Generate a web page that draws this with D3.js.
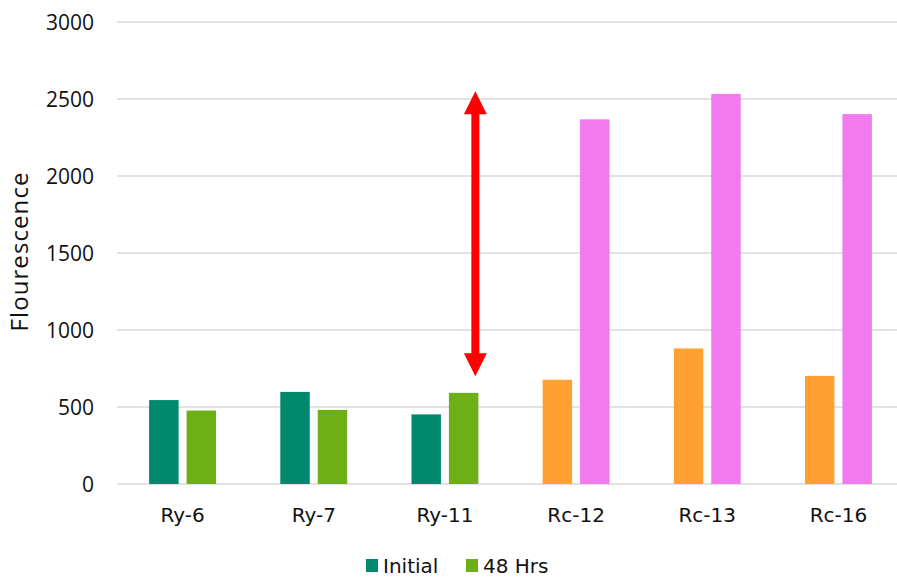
<!DOCTYPE html>
<html>
<head>
<meta charset="utf-8">
<script src="https://cdn.jsdelivr.net/npm/d3@7"></script>
<style>
  html, body { margin: 0; padding: 0; background: #fff; }
  svg text { fill: #111; }
  .num { font-family: "Open Sans", sans-serif; }
  .lbl { font-family: "DejaVu Sans", sans-serif; }
</style>
</head>
<body>
<svg id="chart" width="897" height="578"></svg>
<script>
// Samples on the x axis
const categories = ["Ry-6", "Ry-7", "Ry-11", "Rc-12", "Rc-13", "Rc-16"];
// Series names (legend) and per-sample fluorescence readings
const seriesNames = ["Initial", "48 Hrs"];
const initialValues = [545, 598, 452, 677, 880, 702];
const hrs48Values   = [477, 481, 592, 2368, 2533, 2402];
// Y axis ticks
const yTicks = [0, 500, 1000, 1500, 2000, 2500, 3000];
// Annotation: double arrow between the Ry-11 level and the Rc level
const arrowFrom = 700, arrowTo = 2550, arrowCategory = "Ry-11";

// Ry samples use green shades, Rc samples use orange / pink
const ryColors = ["#00896f", "#6db016"];
const rcColors = ["#ffa033", "#f07aee"];

const svg = d3.select("#chart");
const margin = { left: 117, right: -7, top: 22, bottom: 94 };
const W = 897, H = 578;

const y = d3.scaleLinear().domain([0, 3000]).range([H - margin.bottom, margin.top]);
const x0 = d3.scaleBand().domain(categories)
  .range([margin.left, W - margin.right])
  .paddingInner(0.49).paddingOuter(0.245);
const x1 = d3.scaleBand().domain(seriesNames)
  .range([0, x0.bandwidth()]).paddingInner(0.213);

// Horizontal gridlines
svg.append("g").selectAll("line").data(yTicks).join("line")
  .attr("x1", margin.left).attr("x2", W)
  .attr("y1", d => y(d)).attr("y2", d => y(d))
  .attr("stroke", "#d9d9d9").attr("stroke-width", 1.6);

// Y axis labels
const yAxis = d3.axisLeft(y).tickValues(yTicks).tickFormat(d3.format("d")).tickSize(0).tickPadding(0);
const yg = svg.append("g").attr("transform", `translate(94,0)`).call(yAxis);
yg.select(".domain").remove();
yg.attr("font-family", null).attr("font-size", null);
yg.selectAll("text").attr("class", "num").style("font-size", "21px").attr("fill", "#111").attr("dy", "0.36em");

// X axis labels
const xAxis = d3.axisBottom(x0).tickSize(0).tickPadding(0);
const xg = svg.append("g").attr("transform", `translate(0,522)`).call(xAxis);
xg.select(".domain").remove();
xg.attr("font-family", null).attr("font-size", null);
xg.selectAll("text").attr("class", "lbl").style("font-size", "20px").attr("fill", "#111").attr("y", 0).attr("dy", 0);

// Bars
const rows = categories.map((c, i) => ({
  cat: c,
  vals: [initialValues[i], hrs48Values[i]],
  colors: c.startsWith("Ry") ? ryColors : rcColors
}));
const groups = svg.append("g").selectAll("g").data(rows).join("g")
  .attr("transform", d => `translate(${x0(d.cat)},0)`);
groups.selectAll("rect")
  .data(d => d.vals.map((v, j) => ({ name: seriesNames[j], v, color: d.colors[j] })))
  .join("rect")
  .attr("x", d => x1(d.name))
  .attr("width", x1.bandwidth())
  .attr("y", d => y(d.v))
  .attr("height", d => y(0) - y(d.v))
  .attr("fill", d => d.color);

// Red double-headed arrow
const ax = x0(arrowCategory) + x0.bandwidth() - 3;
const yTop = y(arrowTo), yBot = y(arrowFrom);
const shaft = 4, headHalf = 11.5, headLen = 23;
const arrowPath = d3.path();
arrowPath.moveTo(ax, yTop);
arrowPath.lineTo(ax + headHalf, yTop + headLen);
arrowPath.lineTo(ax + shaft, yTop + headLen);
arrowPath.lineTo(ax + shaft, yBot - headLen);
arrowPath.lineTo(ax + headHalf, yBot - headLen);
arrowPath.lineTo(ax, yBot);
arrowPath.lineTo(ax - headHalf, yBot - headLen);
arrowPath.lineTo(ax - shaft, yBot - headLen);
arrowPath.lineTo(ax - shaft, yTop + headLen);
arrowPath.lineTo(ax - headHalf, yTop + headLen);
arrowPath.closePath();
svg.append("path").attr("d", arrowPath.toString()).attr("fill", "#ff0000");

// Legend
const legend = svg.append("g").attr("transform", "translate(366,559)");
const legendItems = [
  { name: seriesNames[0], color: ryColors[0], dx: 0 },
  { name: seriesNames[1], color: ryColors[1], dx: 100 }
];
const li = legend.selectAll("g").data(legendItems).join("g")
  .attr("transform", d => `translate(${d.dx},0)`);
li.append("rect").attr("width", 12).attr("height", 13).attr("fill", d => d.color);
li.append("text").attr("class", "lbl").attr("x", 17).attr("y", 14)
  .style("font-size", "20px").text(d => d.name);

// Y axis title
svg.append("text")
  .attr("class", "num")
  .attr("transform", "translate(28,252) rotate(-90)")
  .attr("text-anchor", "middle")
  .attr("textLength", 159).attr("lengthAdjust", "spacing")
  .style("font-size", "24px")
  .text("Flourescence");
</script>
</body>
</html>
